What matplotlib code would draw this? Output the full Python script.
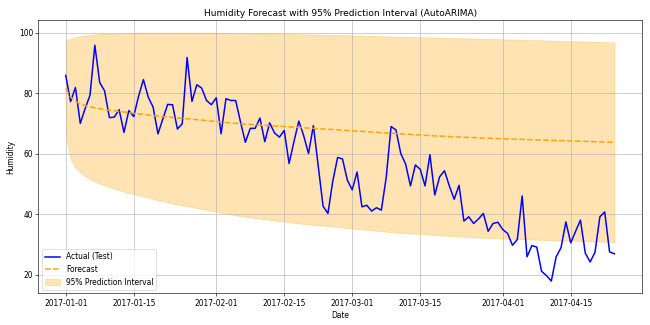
import numpy as np
import pandas as pd
from matplotlib import pyplot as plt

# Humidity test values, one per day from 2017-01-01
actual = [85.87, 77.22, 81.89, 70.05, 74.94, 79.32, 95.83, 83.53, 80.81, 71.94,
          72.11, 74.58, 67.06, 74.28, 72.29, 79.0, 84.5, 78.7, 75.4, 66.6,
          71.5, 76.3, 76.2, 68.2, 69.9, 91.8, 77.3, 82.8, 81.7, 77.6,
          76.2, 78.5, 66.6, 78.2, 77.6, 77.6, 70.5, 63.8, 68.4, 68.4,
          71.8, 64.0, 70.2, 66.9, 65.5, 67.7, 56.8, 64.0, 70.8, 66.0,
          60.1, 69.3, 56.0, 42.7, 40.3, 51.0, 58.8, 58.3, 51.3, 48.1,
          54.0, 42.5, 43.0, 41.1, 42.2, 41.4, 52.2, 69.0, 67.9, 60.1,
          56.6, 49.4, 56.3, 54.9, 49.4, 59.7, 46.4, 52.4, 54.4, 49.4,
          45.0, 49.6, 37.8, 39.2, 37.0, 38.5, 40.3, 34.4, 37.0, 37.4,
          35.0, 33.7, 29.8, 31.7, 46.1, 26.0, 29.7, 29.2, 21.2, 19.8,
          18.0, 26.0, 29.0, 37.5, 30.6, 34.4, 38.1, 27.2, 24.3, 27.5,
          39.2, 40.8, 27.6, 27.0]

# AutoARIMA point forecast
forecast = [81.5, 78.8, 77.3, 76.5, 75.9, 75.5, 75.2, 74.9, 74.6, 74.4,
            74.2, 74.0, 73.8, 73.6, 73.4, 73.2, 73.0, 72.8, 72.6, 72.45,
            72.3, 72.15, 72.0, 71.85, 71.7, 71.55, 71.4, 71.25, 71.1, 70.95,
            70.8, 70.65, 70.5, 70.35, 70.2, 70.05, 69.9, 69.8, 69.7, 69.6,
            69.5, 69.4, 69.3, 69.2, 69.1, 69.0, 68.9, 68.8, 68.7, 68.6,
            68.5, 68.4, 68.3, 68.2, 68.1, 68.0, 67.9, 67.8, 67.7, 67.6,
            67.5, 67.4, 67.3, 67.2, 67.1, 67.0, 66.9, 66.8, 66.7, 66.6,
            66.5, 66.4, 66.3, 66.2, 66.1, 66.0, 65.9, 65.85, 65.8, 65.7,
            65.6, 65.55, 65.5, 65.4, 65.35, 65.3, 65.2, 65.15, 65.1, 65.0,
            64.95, 64.9, 64.85, 64.8, 64.75, 64.7, 64.65, 64.6, 64.55, 64.5,
            64.45, 64.4, 64.35, 64.3, 64.25, 64.2, 64.15, 64.1, 64.05, 64.0,
            63.95, 63.9, 63.85, 63.8]

# 95% prediction interval bounds
upper = [97.2, 98.0, 98.5, 98.9, 99.1, 99.3, 99.45, 99.55, 99.65, 99.7,
         99.75, 99.8, 99.85, 99.9, 99.9, 99.95, 100.0, 100.0, 100.0, 100.0,
         100.0, 100.0, 100.0, 100.0, 100.0, 100.0, 100.0, 100.0, 100.0, 100.0,
         100.0, 99.98, 99.95, 99.92, 99.9, 99.87, 99.84, 99.81, 99.78, 99.75,
         99.72, 99.69, 99.66, 99.63, 99.6, 99.57, 99.54, 99.51, 99.48, 99.45,
         99.42, 99.39, 99.36, 99.33, 99.3, 99.27, 99.24, 99.2, 99.15, 99.1,
         99.06, 99.01, 98.97, 98.92, 98.88, 98.83, 98.78, 98.74, 98.69, 98.65,
         98.6, 98.56, 98.52, 98.48, 98.45, 98.41, 98.37, 98.33, 98.29, 98.25,
         98.21, 98.17, 98.14, 98.1, 98.06, 98.02, 97.98, 97.94, 97.9, 97.86,
         97.81, 97.77, 97.72, 97.68, 97.64, 97.59, 97.55, 97.5, 97.46, 97.42,
         97.37, 97.33, 97.28, 97.24, 97.2, 97.15, 97.11, 97.06, 97.02, 96.98,
         96.93, 96.89, 96.84, 96.8]

lower = [66.3, 58.3, 55.5, 53.8, 52.6, 51.7, 50.9, 50.2, 49.6, 49.0,
         48.5, 48.0, 47.5, 47.1, 46.7, 46.3, 45.9, 45.5, 45.1, 44.7,
         44.3, 44.0, 43.6, 43.3, 43.0, 42.7, 42.4, 42.1, 41.8, 41.5,
         41.2, 40.9, 40.6, 40.3, 40.0, 39.7, 39.4, 39.2, 39.0, 38.8,
         38.6, 38.4, 38.2, 38.0, 37.8, 37.6, 37.4, 37.2, 37.0, 36.85,
         36.7, 36.55, 36.4, 36.25, 36.1, 35.95, 35.8, 35.65, 35.5, 35.35,
         35.2, 35.05, 34.9, 34.75, 34.6, 34.45, 34.3, 34.15, 34.0, 33.9,
         33.8, 33.7, 33.6, 33.5, 33.4, 33.3, 33.2, 33.1, 33.0, 32.9,
         32.8, 32.7, 32.6, 32.5, 32.4, 32.35, 32.3, 32.2, 32.15, 32.1,
         32.0, 31.95, 31.9, 31.85, 31.8, 31.75, 31.7, 31.65, 31.6, 31.55,
         31.5, 31.45, 31.4, 31.35, 31.3, 31.25, 31.2, 31.15, 31.1, 31.05,
         31.0, 30.95, 30.9, 30.85]

dates = pd.date_range("2017-01-01", periods=len(actual), freq="D")

# Drawn at 12x6 inches, saved small so it comes out about 650x325
fig, ax = plt.subplots(figsize=(12, 6))

ax.plot(dates, actual, color="blue", linewidth=2, label="Actual (Test)")
ax.plot(dates, forecast, color="orange", linestyle="--", linewidth=2,
        label="Forecast")
ax.fill_between(dates, lower, upper, color="orange", alpha=0.3,
                label="95% Prediction Interval")

ax.set_title("Humidity Forecast with 95% Prediction Interval (AutoARIMA)")
ax.set_xlabel("Date")
ax.set_ylabel("Humidity")
ax.legend()
ax.grid(True)

fig.tight_layout()
fig.savefig("out.png", dpi=650 / 12)
